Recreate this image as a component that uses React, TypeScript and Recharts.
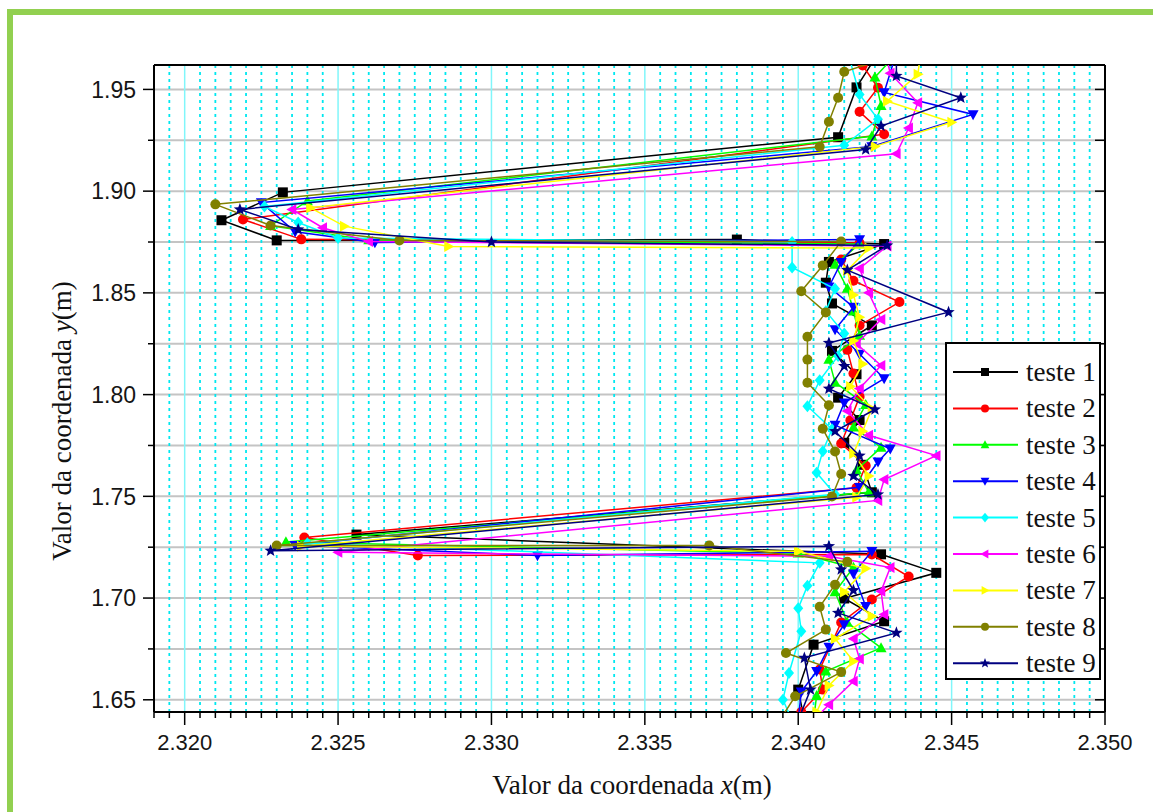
import React from 'react';
import { ScatterChart, Scatter, XAxis, YAxis, CartesianGrid, ReferenceLine } from 'recharts';

// x / y coordinates (m) of each test run, in path order
const t1x = [2.3427, 2.3419, 2.3413, 2.3232, 2.3212, 2.3230, 2.3380, 2.3428, 2.3410, 2.3409, 2.3411, 2.3424, 2.3411, 2.3419, 2.3413, 2.3420, 2.3415, 2.3421, 2.3424, 2.3256, 2.3427, 2.3445, 2.3415, 2.3428, 2.3405, 2.3400, 2.3402];
const t1y = [1.9700, 1.9510, 1.9265, 1.8994, 1.8857, 1.8758, 1.8762, 1.8740, 1.8652, 1.8550, 1.8448, 1.8340, 1.8215, 1.8100, 1.7985, 1.7875, 1.7763, 1.7655, 1.7520, 1.7312, 1.7215, 1.7124, 1.6998, 1.6886, 1.6771, 1.6550, 1.6400];

const t2x = [2.3424, 2.3421, 2.3426, 2.3420, 2.3428, 2.3219, 2.3238, 2.3420, 2.3414, 2.3418, 2.3433, 2.3420, 2.3416, 2.3418, 2.3420, 2.3417, 2.3414, 2.3422, 2.3419, 2.3239, 2.3276, 2.3424, 2.3436, 2.3424, 2.3414, 2.3407, 2.3408, 2.3401];
const t2y = [1.9700, 1.9618, 1.9508, 1.9390, 1.9280, 1.8861, 1.8763, 1.8745, 1.8664, 1.8560, 1.8455, 1.8340, 1.8220, 1.8104, 1.7990, 1.7874, 1.7760, 1.7650, 1.7542, 1.7298, 1.7209, 1.7214, 1.7106, 1.6993, 1.6880, 1.6649, 1.6550, 1.6440];

const t3x = [2.3433, 2.3425, 2.3427, 2.3424, 2.3240, 2.3228, 2.3260, 2.3420, 2.3412, 2.3416, 2.3418, 2.3420, 2.3410, 2.3412, 2.3422, 2.3418, 2.3427, 2.3419, 2.3423, 2.3233, 2.3400, 2.3418, 2.3412, 2.3416, 2.3427, 2.3409, 2.3406, 2.3405];
const t3y = [1.9690, 1.9560, 1.9420, 1.9270, 1.8952, 1.8830, 1.8760, 1.8740, 1.8640, 1.8522, 1.8410, 1.8290, 1.8172, 1.8060, 1.7950, 1.7840, 1.7740, 1.7630, 1.7520, 1.7275, 1.7220, 1.7150, 1.7030, 1.6880, 1.6755, 1.6640, 1.6520, 1.6400];

const t4x = [2.3432, 2.3428, 2.3457, 2.3424, 2.3225, 2.3236, 2.3262, 2.3420, 2.3414, 2.3410, 2.3418, 2.3412, 2.3420, 2.3428, 2.3415, 2.3412, 2.3430, 2.3426, 2.3420, 2.3236, 2.3315, 2.3424, 2.3418, 2.3422, 2.3415, 2.3410, 2.3406, 2.3401, 2.3400];
const t4y = [1.9680, 1.9485, 1.9377, 1.9220, 1.8944, 1.8800, 1.8748, 1.8762, 1.8650, 1.8530, 1.8430, 1.8320, 1.8200, 1.8079, 1.7960, 1.7850, 1.7734, 1.7670, 1.7545, 1.7260, 1.7209, 1.7230, 1.7120, 1.6960, 1.6870, 1.6760, 1.6640, 1.6540, 1.6400];

const t5x = [2.3416, 2.3420, 2.3426, 2.3415, 2.3226, 2.3237, 2.3250, 2.3398, 2.3398, 2.3412, 2.3409, 2.3415, 2.3413, 2.3407, 2.3403, 2.3411, 2.3408, 2.3406, 2.3412, 2.3240, 2.3407, 2.3403, 2.3400, 2.3401, 2.3397, 2.3395, 2.3398];
const t5y = [1.9690, 1.9475, 1.9353, 1.9225, 1.8925, 1.8846, 1.8770, 1.8750, 1.8625, 1.8520, 1.8410, 1.8300, 1.8190, 1.8070, 1.7943, 1.7830, 1.7722, 1.7616, 1.7510, 1.7270, 1.7173, 1.7060, 1.6950, 1.6837, 1.6632, 1.6500, 1.6400];

const t6x = [2.3428, 2.3430, 2.3439, 2.3436, 2.3432, 2.3235, 2.3245, 2.3260, 2.3429, 2.3420, 2.3423, 2.3427, 2.3419, 2.3427, 2.3420, 2.3416, 2.3423, 2.3445, 2.3428, 2.3426, 2.3250, 2.3410, 2.3430, 2.3427, 2.3428, 2.3418, 2.3420, 2.3418, 2.3410, 2.3405];
const t6y = [1.9700, 1.9580, 1.9435, 1.9310, 1.9184, 1.8910, 1.8820, 1.8752, 1.8730, 1.8620, 1.8500, 1.8369, 1.8250, 1.8143, 1.8030, 1.7920, 1.7800, 1.7700, 1.7583, 1.7480, 1.7225, 1.7205, 1.7150, 1.7034, 1.6919, 1.6800, 1.6700, 1.6591, 1.6476, 1.6400];

const t7x = [2.3440, 2.3439, 2.3429, 2.3450, 2.3425, 2.3241, 2.3252, 2.3286, 2.3423, 2.3416, 2.3418, 2.3420, 2.3418, 2.3421, 2.3417, 2.3424, 2.3421, 2.3418, 2.3423, 2.3419, 2.3238, 2.3400, 2.3422, 2.3415, 2.3424, 2.3412, 2.3418, 2.3410, 2.3406];
const t7y = [1.9690, 1.9574, 1.9442, 1.9339, 1.9220, 1.8918, 1.8828, 1.8728, 1.8720, 1.8610, 1.8490, 1.8380, 1.8265, 1.8150, 1.8040, 1.7930, 1.7820, 1.7710, 1.7600, 1.7495, 1.7255, 1.7230, 1.7145, 1.7030, 1.6910, 1.6800, 1.6690, 1.6570, 1.6440];

const t8x = [2.3434, 2.3415, 2.3413, 2.3410, 2.3407, 2.3210, 2.3228, 2.3270, 2.3414, 2.3408, 2.3401, 2.3409, 2.3403, 2.3403, 2.3403, 2.3410, 2.3408, 2.3412, 2.3414, 2.3411, 2.3230, 2.3371, 2.3416, 2.3412, 2.3407, 2.3409, 2.3396, 2.3414, 2.3399, 2.3394];
const t8y = [1.9680, 1.9587, 1.9459, 1.9341, 1.9218, 1.8935, 1.8831, 1.8758, 1.8752, 1.8635, 1.8508, 1.8404, 1.8284, 1.8172, 1.8058, 1.7948, 1.7832, 1.7720, 1.7610, 1.7499, 1.7258, 1.7258, 1.7178, 1.7066, 1.6957, 1.6845, 1.6730, 1.6636, 1.6517, 1.6400];

const t9x = [2.3432, 2.3432, 2.3453, 2.3427, 2.3422, 2.3218, 2.3237, 2.3300, 2.3429, 2.3416, 2.3449, 2.3410, 2.3415, 2.3410, 2.3425, 2.3412, 2.3420, 2.3418, 2.3426, 2.3228, 2.3410, 2.3414, 2.3418, 2.3413, 2.3432, 2.3402, 2.3404, 2.3400];
const t9y = [1.9700, 1.9566, 1.9459, 1.9320, 1.9205, 1.8910, 1.8812, 1.8750, 1.8733, 1.8612, 1.8405, 1.8254, 1.8140, 1.8029, 1.7927, 1.7820, 1.7700, 1.7600, 1.7509, 1.7233, 1.7255, 1.7140, 1.7038, 1.6927, 1.6829, 1.6706, 1.6550, 1.6400];

const seriesNames = ['teste 1', 'teste 2', 'teste 3', 'teste 4', 'teste 5', 'teste 6', 'teste 7', 'teste 8', 'teste 9'];
const seriesColors = ['#000000', '#ff0000', '#00ff00', '#0000ff', '#00ffff', '#ff00ff', '#ffff00', '#808000', '#000080'];
const seriesMarkers = ['square', 'circle', 'up', 'down', 'diamond', 'left', 'right', 'circle', 'star'];
const seriesX = [t1x, t2x, t3x, t4x, t5x, t6x, t7x, t8x, t9x];
const seriesY = [t1y, t2y, t3y, t4y, t5y, t6y, t7y, t8y, t9y];

const xDomain = [2.319, 2.35];
const yDomain = [1.644, 1.962];
const xMajorTicks = [2.32, 2.325, 2.33, 2.335, 2.34, 2.345, 2.35];
const yTicks = [1.65, 1.675, 1.7, 1.725, 1.75, 1.775, 1.8, 1.825, 1.85, 1.875, 1.9, 1.925, 1.95];

// minor x ticks every 0.0005
const xTicks: number[] = [];
for (let i = 0; i <= 62; i++) xTicks.push(Math.round((2.319 + i * 0.0005) * 10000) / 10000);
const xMinorTicks = xTicks.filter(v => !xMajorTicks.includes(v) && v > xDomain[0]);

const isMajorX = (v: number) => Math.round(v * 10000) % 50 === 0;
const isLabelY = (v: number) => Math.round(v * 1000) % 50 === 0;

const sansFont = "Arial, 'Liberation Sans', sans-serif";
const serifFont = "'Times New Roman', 'Liberation Serif', serif";

function Marker({ kind, cx, cy, color, size }: { kind: string; cx: number; cy: number; color: string; size: number }) {
  const h = size / 2;
  switch (kind) {
    case 'square':
      return <rect x={cx - h} y={cy - h} width={size} height={size} fill={color} />;
    case 'circle':
      return <circle cx={cx} cy={cy} r={h} fill={color} />;
    case 'up':
      return <polygon points={`${cx},${cy - h * 1.15} ${cx + h * 1.1},${cy + h * 0.85} ${cx - h * 1.1},${cy + h * 0.85}`} fill={color} />;
    case 'down':
      return <polygon points={`${cx},${cy + h * 1.15} ${cx + h * 1.1},${cy - h * 0.85} ${cx - h * 1.1},${cy - h * 0.85}`} fill={color} />;
    case 'left':
      return <polygon points={`${cx - h * 1.15},${cy} ${cx + h * 0.85},${cy - h * 1.1} ${cx + h * 0.85},${cy + h * 1.1}`} fill={color} />;
    case 'right':
      return <polygon points={`${cx + h * 1.15},${cy} ${cx - h * 0.85},${cy - h * 1.1} ${cx - h * 0.85},${cy + h * 1.1}`} fill={color} />;
    case 'diamond':
      return <polygon points={`${cx},${cy - h * 1.2} ${cx + h},${cy} ${cx},${cy + h * 1.2} ${cx - h},${cy}`} fill={color} />;
    case 'star': {
      const pts: string[] = [];
      for (let i = 0; i < 10; i++) {
        const r = i % 2 === 0 ? h * 1.3 : h * 0.55;
        const a = -Math.PI / 2 + (i * Math.PI) / 5;
        pts.push(`${cx + r * Math.cos(a)},${cy + r * Math.sin(a)}`);
      }
      return <polygon points={pts.join(' ')} fill={color} />;
    }
    default:
      return null;
  }
}

const BottomTick = (props: any) => {
  const { x, y, payload } = props;
  const major = isMajorX(payload.value);
  return (
    <g>
      <line x1={x} y1={y} x2={x} y2={y + (major ? 13 : 6)} stroke="#000" strokeWidth={1.5} />
      {major && (
        <text x={x} y={y + 38} textAnchor="middle" fontFamily={sansFont} fontSize={22} fill="#151515">
          {payload.value.toFixed(3)}
        </text>
      )}
    </g>
  );
};

const TopTick = (props: any) => {
  const { x, y, payload } = props;
  const major = isMajorX(payload.value);
  return <line x1={x} y1={y} x2={x} y2={y + (major ? 13 : 7)} stroke="#000" strokeWidth={1.5} />;
};

const LeftTick = (props: any) => {
  const { x, y, payload } = props;
  const label = isLabelY(payload.value);
  return (
    <g>
      <line x1={x - (label ? 11 : 6)} y1={y} x2={x} y2={y} stroke="#000" strokeWidth={1.5} />
      {label && (
        <text x={x - 18} y={y} dy="0.36em" textAnchor="end" fontFamily={sansFont} fontSize={23} fill="#151515">
          {payload.value.toFixed(2)}
        </text>
      )}
    </g>
  );
};

const RightTick = (props: any) => {
  const { x, y } = props;
  return <line x1={x - 10} y1={y} x2={x} y2={y} stroke="#000" strokeWidth={1.5} />;
};

function LegendBox() {
  const rowGap = 36.4;
  return (
    <svg
      width={156}
      height={338}
      style={{ position: 'absolute', left: 945, top: 342 }}
    >
      <rect x={1} y={1} width={154} height={336} fill="#fff" stroke="#000" strokeWidth={2} />
      {seriesNames.map((name, i) => {
        const cy = 30 + i * rowGap;
        return (
          <g key={name}>
            <line x1={8} y1={cy} x2={73} y2={cy} stroke={seriesColors[i]} strokeWidth={2} />
            <Marker kind={seriesMarkers[i]} cx={40} cy={cy} color={seriesColors[i]} size={8} />
            <text x={81} y={cy} dy="0.33em" fontFamily={serifFont} fontSize={27} fill="#111">
              {name}
            </text>
          </g>
        );
      })}
    </svg>
  );
}

export default function App() {
  const seriesData = seriesNames.map((name, i) =>
    seriesX[i].map((x, j) => ({ x, y: seriesY[i][j] }))
  );

  return (
    <div style={{ position: 'absolute', left: 0, top: 0, width: 1153, height: 812, background: '#fff', overflow: 'hidden' }}>
      <div
        style={{
          position: 'absolute',
          left: 7,
          top: 9,
          width: 1160,
          height: 820,
          borderLeft: '6px solid #92d050',
          borderTop: '6px solid #92d050',
        }}
      />
      <div style={{ position: 'absolute', left: 0, top: 0 }}>
        <ScatterChart width={1153} height={812} margin={{ top: 55, right: 38, bottom: 60, left: 54 }}>
          {xMinorTicks.map(v => (
            <ReferenceLine key={`mn-${v}`} x={v} stroke="#00e8f0" strokeWidth={1.8} strokeDasharray="3 4" />
          ))}
          {xMajorTicks.map(v => (
            <ReferenceLine key={`mj-${v}`} x={v} stroke="#80f6fa" strokeWidth={1.5} />
          ))}
          <CartesianGrid horizontal={{ stroke: '#c4c4c4', strokeWidth: 2 }} vertical={false} stroke="#c4c4c4" strokeWidth={2} />
          <XAxis
            type="number"
            dataKey="x"
            domain={xDomain}
            allowDataOverflow
            ticks={xTicks}
            interval={0}
            tick={<BottomTick />}
            tickLine={false}
            tickSize={0}
            tickMargin={0}
            height={40}
            axisLine={{ stroke: '#000', strokeWidth: 2 }}
          />
          <XAxis
            xAxisId="top"
            orientation="top"
            type="number"
            domain={xDomain}
            allowDataOverflow
            ticks={xTicks}
            interval={0}
            tick={<TopTick />}
            tickLine={false}
            tickSize={0}
            tickMargin={0}
            height={10}
            axisLine={{ stroke: '#000', strokeWidth: 2 }}
          />
          <YAxis
            type="number"
            dataKey="y"
            domain={yDomain}
            allowDataOverflow
            ticks={yTicks}
            interval={0}
            tick={<LeftTick />}
            tickLine={false}
            tickSize={0}
            tickMargin={0}
            width={100}
            axisLine={{ stroke: '#000', strokeWidth: 2 }}
          />
          <YAxis
            yAxisId="right"
            orientation="right"
            type="number"
            domain={yDomain}
            allowDataOverflow
            ticks={yTicks}
            interval={0}
            tick={<RightTick />}
            tickLine={false}
            tickSize={0}
            tickMargin={0}
            width={10}
            axisLine={{ stroke: '#000', strokeWidth: 2 }}
          />
          {seriesData.map((data, i) => (
            <Scatter
              key={seriesNames[i]}
              name={seriesNames[i]}
              data={data}
              fill={seriesColors[i]}
              line={{ stroke: seriesColors[i], strokeWidth: 1.5 }}
              lineType="joint"
              isAnimationActive={false}
              shape={(p: any) => <Marker kind={seriesMarkers[i]} cx={p.cx} cy={p.cy} color={seriesColors[i]} size={10} />}
            />
          ))}
        </ScatterChart>
      </div>
      <LegendBox />
      <div
        style={{
          position: 'absolute',
          left: 482,
          top: 770,
          width: 300,
          textAlign: 'center',
          fontFamily: serifFont,
          fontSize: 27,
          color: '#111',
          whiteSpace: 'nowrap',
        }}
      >
        Valor da coordenada <i>x</i>(m)
      </div>
      <div
        style={{
          position: 'absolute',
          left: 62 - 150,
          top: 421 - 17,
          width: 300,
          height: 34,
          lineHeight: '34px',
          textAlign: 'center',
          transform: 'rotate(-90deg)',
          fontFamily: serifFont,
          fontSize: 27,
          color: '#111',
          whiteSpace: 'nowrap',
        }}
      >
        Valor da coordenada <i>y</i>(m)
      </div>
    </div>
  );
}
